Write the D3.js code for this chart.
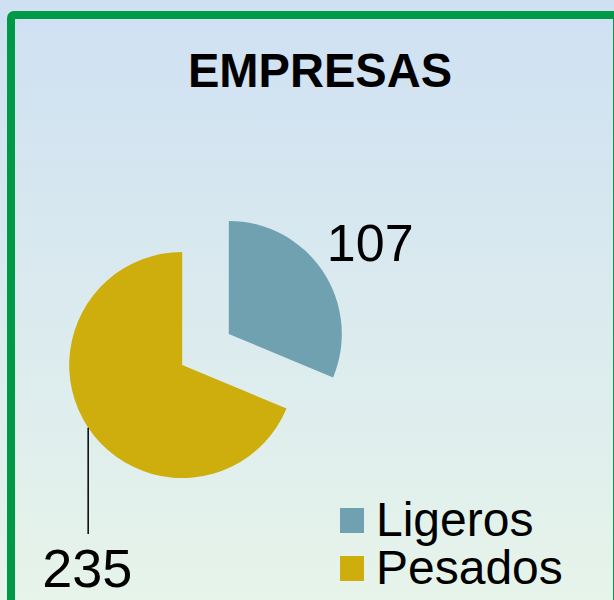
<!DOCTYPE html>
<html><head><meta charset="utf-8">
<script src="https://cdn.jsdelivr.net/npm/d3@7"></script>
<style>html,body{margin:0;padding:0;background:#fff;}svg{display:block;}</style>
</head><body>
<svg id="chart" width="614" height="600"></svg>
<script>
const title = "EMPRESAS";
const categories = ["Ligeros", "Pesados"];
const values = [107, 235];
const colors = ["#6fa1b1", "#ceae0c"];

const svg = d3.select("#chart");
const W = 614, H = 600;
const defs = svg.append("defs");
const grad = defs.append("linearGradient").attr("id", "bg").attr("x1", 0).attr("y1", 0).attr("x2", 0).attr("y2", 1);
grad.append("stop").attr("offset", "0%").attr("stop-color", "#cfe0f3");
grad.append("stop").attr("offset", "100%").attr("stop-color", "#e6f4ea");
svg.append("rect").attr("width", W).attr("height", H).attr("fill", "url(#bg)");

// border (extends beyond right/bottom edges)
svg.append("rect").attr("x", 11).attr("y", 15).attr("width", 606).attr("height", 600)
  .attr("rx", 3).attr("fill", "none").attr("stroke", "#009a46").attr("stroke-width", 8);

const font = "Liberation Sans, Arial, sans-serif";
// title
svg.append("text").attr("x", 320).attr("y", 87).attr("text-anchor", "middle")
  .attr("font-family", font).attr("font-weight", "bold")
  .attr("font-size", 48).attr("textLength", 264).attr("lengthAdjust", "spacingAndGlyphs")
  .attr("fill", "#000").text(title);

// pie
const cx = 205.5, cy = 349.5, R = 113, explode = 28;
const pie = d3.pie().sort(null).value(d => d)(values);
const arc = d3.arc().innerRadius(0).outerRadius(R);
const g = svg.append("g").attr("transform", `translate(${cx},${cy})`);
function offsetOf(d) {
  const a = (d.startAngle + d.endAngle) / 2;
  return [Math.sin(a) * explode, -Math.cos(a) * explode];
}
function outerPt(d) {
  const a = (d.startAngle + d.endAngle) / 2;
  const o = offsetOf(d);
  return [o[0] + Math.sin(a) * R, o[1] - Math.cos(a) * R];
}
g.selectAll("path.slice").data(pie).join("path").attr("class", "slice")
  .attr("transform", d => { const o = offsetOf(d); return `translate(${o[0]},${o[1]})`; })
  .attr("d", arc).attr("fill", (d, i) => colors[i]);

// label 0 (Ligeros)
{
  const p = outerPt(pie[0]);
  g.append("text").attr("x", p[0] + 4).attr("y", p[1] - 10)
    .attr("font-family", font).attr("font-size", 52).attr("fill", "#000")
    .text(values[0]);
}
// label 1 (Pesados) with leader line
{
  const p = outerPt(pie[1]);
  g.append("line").attr("x1", p[0]).attr("y1", p[1]).attr("x2", p[0]).attr("y2", 534 - cy)
    .attr("stroke", "#000").attr("stroke-width", 1.5);
  g.append("text").attr("x", p[0] - 1).attr("y", 587 - cy).attr("text-anchor", "middle")
    .attr("font-family", font).attr("font-size", 54).attr("fill", "#000")
    .text(values[1]);
}

// legend
const lg = svg.append("g").attr("transform", "translate(340,508)");
const items = lg.selectAll("g").data(categories).join("g")
  .attr("transform", (d, i) => `translate(0,${i * 48})`);
items.append("rect").attr("width", 24).attr("height", 25).attr("fill", (d, i) => colors[i]);
items.append("text").attr("x", 36).attr("y", 28).attr("font-family", font)
  .attr("font-size", 48).attr("fill", "#000").text(d => d);
</script>
</body></html>
